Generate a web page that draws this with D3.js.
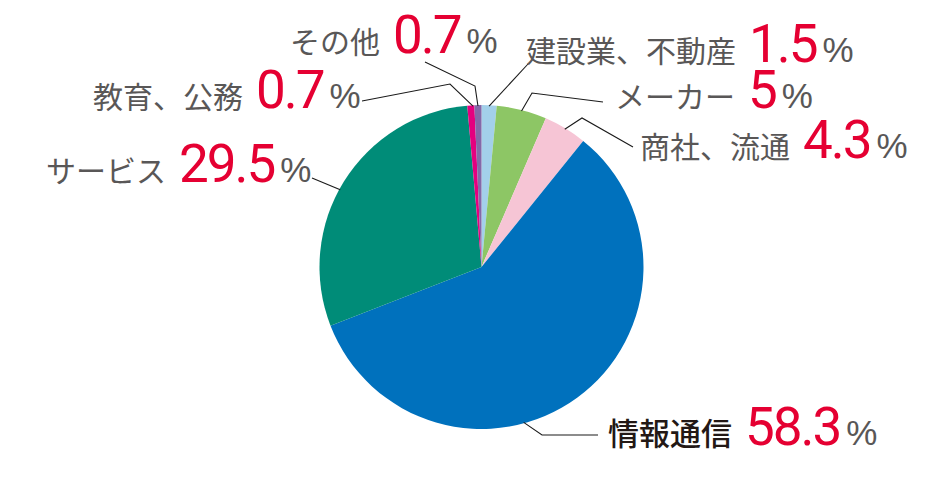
<!DOCTYPE html>
<html><head><meta charset="utf-8">
<script src="https://cdn.jsdelivr.net/npm/d3@7"></script>
<style>
html,body{margin:0;padding:0;background:#fff;}
svg{display:block;}
</style>
</head><body>
<svg id="chart" width="948" height="495"></svg>
<script>
// ---- data ----
const categories = ["建設業、不動産", "メーカー", "商社、流通", "情報通信", "サービス", "教育、公務", "その他"];
const shares = [1.5, 5, 4.3, 58.3, 29.5, 0.7, 0.7];
const valueLabels = ["1.5", "5", "4.3", "58.3", "29.5", "0.7", "0.7"];
const colors = ["#a3d0ea", "#8dc665", "#f6c5d5", "#0071bd", "#008c78", "#e4007f", "#8468a8"];

// ---- layout (label placement) ----
const cx = 481.5, cy = 267, R = 162;
const labelLayout = {
  "建設業、不動産": {x: 526, y: 62, frac: 0.5, pts: [[528, 64]]},
  "メーカー":       {x: 615, y: 108, frac: 0.5, pts: [[532, 93], [603, 102]]},
  "商社、流通":     {x: 640, y: 158, frac: 0.5, pts: [[582, 118], [633, 147]]},
  "情報通信":       {x: 608, y: 445, frac: 0.6, pts: [[542, 435], [598, 435]], dark: true},
  "サービス":       {x: 46, y: 182, frac: 0.47, pts: [[312, 178]]},
  "教育、公務":     {x: 93, y: 108, frac: 0.8, pts: [[450, 84], [362, 101]]},
  "その他":         {x: 290, y: 53, frac: 0.5, pts: [[475, 86], [425, 62]]}
};

const data = categories.map((c, i) => ({name: c, value: shares[i], label: valueLabels[i], color: colors[i]}));

const svg = d3.select("#chart");
const pie = d3.pie().value(d => d.value).sort(null).startAngle(0).endAngle(2 * Math.PI);
const arc = d3.arc().innerRadius(0).outerRadius(R);
const arcs = pie(data);

const g = svg.append("g").attr("transform", `translate(${cx},${cy})`);
g.selectAll("path.slice").data(arcs).enter().append("path")
  .attr("class", "slice")
  .attr("d", arc)
  .attr("fill", d => d.data.color);

// leader lines
const line = d3.line();
arcs.forEach(a => {
  const L = labelLayout[a.data.name];
  const ang = a.startAngle + (a.endAngle - a.startAngle) * L.frac;
  const r0 = R - 1;
  const start = [cx + r0 * Math.sin(ang), cy - r0 * Math.cos(ang)];
  svg.append("path")
    .attr("d", line([start, ...L.pts]))
    .attr("fill", "none")
    .attr("stroke", "#1a1a1a")
    .attr("stroke-width", 1.1);
});

// labels
arcs.forEach(a => {
  const L = labelLayout[a.data.name];
  const t = svg.append("text").attr("x", L.x).attr("y", L.y);
  t.append("tspan")
    .text(a.data.name)
    .attr("font-family", "'Noto Sans CJK JP', 'Noto Sans', sans-serif")
    .attr("font-size", L.dark ? 31 : 30)
    .attr("font-weight", L.dark ? 500 : 400)
    .attr("fill", L.dark ? "#231815" : "#595757");
  t.append("tspan")
    .text(a.data.label)
    .attr("dx", 13)
    .attr("font-family", "Roboto, 'Liberation Sans', sans-serif")
    .attr("font-size", 53)
    .attr("letter-spacing", -2)
    .attr("fill", "#e50032");
  t.append("tspan")
    .text("%")
    .attr("dx", 6)
    .attr("font-family", "'Liberation Sans', 'Roboto', sans-serif")
    .attr("font-size", 35)
    .attr("fill", "#595757");
});
</script>
</body></html>
